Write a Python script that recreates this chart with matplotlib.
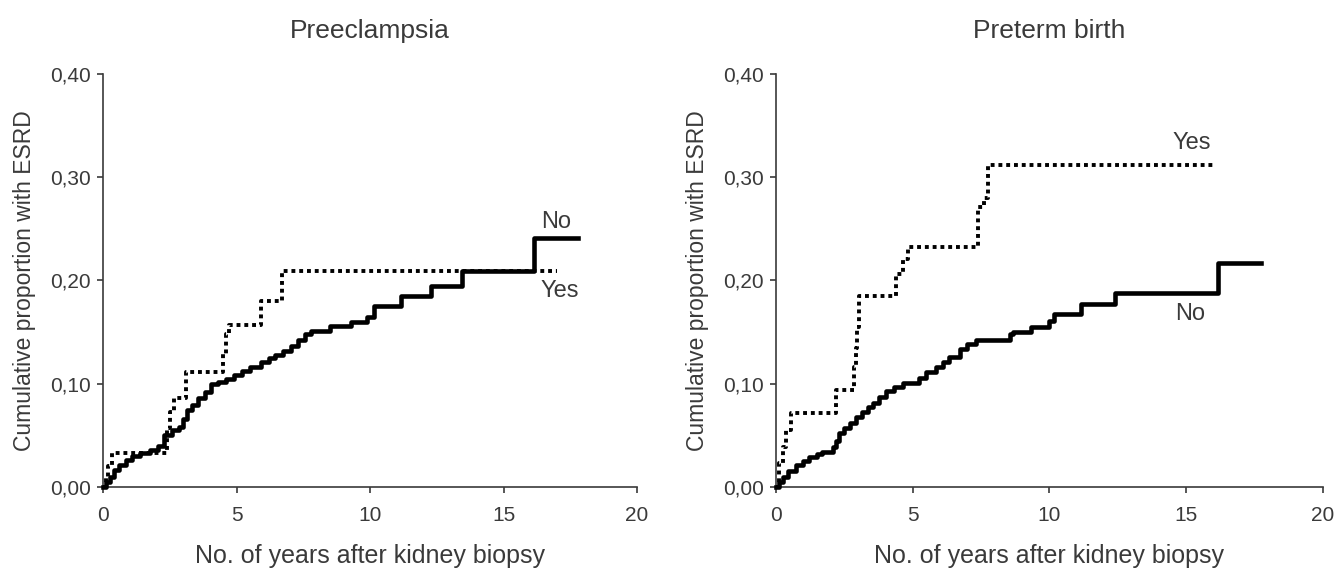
"""Cumulative proportion with ESRD after kidney biopsy: preeclampsia and preterm birth."""

import matplotlib

matplotlib.use("Agg")
import matplotlib.pyplot as plt

plt.rcParams["font.family"] = ["Liberation Sans", "DejaVu Sans"]

# Preeclampsia panel (years, cumulative proportion; step "post")
pe_no_t = [0, 0.1, 0.25, 0.4, 0.6, 0.85, 1.1, 1.4, 1.75, 2.05, 2.3, 2.6, 2.85, 3.0, 3.15,
           3.35, 3.55, 3.8, 4.05, 4.3, 4.6, 4.9, 5.2, 5.5, 5.9, 6.2, 6.45, 6.75, 7.05, 7.3,
           7.55, 7.8, 8.5, 9.3, 9.9, 10.15, 11.15, 12.3, 13.45, 16.15, 17.8]
pe_no_y = [0, 0.005, 0.010, 0.016, 0.021, 0.026, 0.030, 0.033, 0.036, 0.040, 0.050, 0.055,
           0.058, 0.066, 0.075, 0.079, 0.086, 0.092, 0.100, 0.102, 0.105, 0.108, 0.112, 0.116,
           0.121, 0.125, 0.128, 0.132, 0.137, 0.142, 0.148, 0.151, 0.156, 0.160, 0.165, 0.175,
           0.185, 0.195, 0.209, 0.241, 0.241]
pe_yes_t = [0, 0.1, 0.2, 0.35, 2.38, 2.5, 2.65, 3.1, 4.5, 4.6, 4.7, 5.92, 6.7, 17.0]
pe_yes_y = [0, 0.010, 0.020, 0.033, 0.057, 0.073, 0.086, 0.111, 0.129, 0.148, 0.157, 0.180,
            0.209, 0.209]

# Preterm birth panel
pt_no_t = [0, 0.1, 0.25, 0.45, 0.73, 1.0, 1.22, 1.5, 1.7, 2.07, 2.2, 2.32, 2.5, 2.7, 2.93,
           3.15, 3.35, 3.53, 3.75, 4.02, 4.3, 4.63, 5.24, 5.5, 5.85, 6.1, 6.34, 6.71, 7.0,
           7.32, 8.54, 8.66, 9.33, 10.0, 10.18, 11.16, 12.38, 16.16, 17.75]
pt_no_y = [0, 0.005, 0.010, 0.015, 0.021, 0.025, 0.029, 0.032, 0.034, 0.039, 0.045, 0.052,
           0.057, 0.062, 0.068, 0.073, 0.077, 0.081, 0.087, 0.093, 0.097, 0.101, 0.106, 0.111,
           0.116, 0.121, 0.126, 0.134, 0.138, 0.142, 0.148, 0.150, 0.155, 0.161, 0.168, 0.177,
           0.188, 0.217, 0.217]
pt_yes_t = [0, 0.12, 0.24, 0.37, 0.55, 2.2, 2.87, 2.93, 2.98, 3.02, 3.05, 4.39, 4.63, 4.82,
            7.38, 7.6, 7.74, 15.98]
pt_yes_y = [0, 0.023, 0.039, 0.055, 0.072, 0.094, 0.116, 0.135, 0.155, 0.171, 0.185, 0.206,
            0.221, 0.232, 0.271, 0.280, 0.312, 0.312]

x_ticks = [0, 5, 10, 15, 20]
y_ticks = [0.0, 0.1, 0.2, 0.3, 0.4]
y_tick_labels = ["0,00", "0,10", "0,20", "0,30", "0,40"]

panels = [
    ("Preeclampsia", pe_no_t, pe_no_y, pe_yes_t, pe_yes_y,
     [(16.4, 0.257, "No"), (16.4, 0.190, "Yes")]),
    ("Preterm birth", pt_no_t, pt_no_y, pt_yes_t, pt_yes_y,
     [(14.5, 0.333, "Yes"), (14.6, 0.168, "No")]),
]
positions = [[0.0769, 0.1516, 0.3985, 0.7195], [0.5791, 0.1516, 0.4082, 0.7195]]

text_color = "#3a3a3a"
fig = plt.figure(figsize=(13.4, 5.74), dpi=100)

for pos, (title, no_t, no_y, yes_t, yes_y, labels) in zip(positions, panels):
    ax = fig.add_axes(pos)
    ax.step(no_t, no_y, where="post", color="black", lw=3.3, clip_on=False, zorder=3)
    ax.step(yes_t, yes_y, where="post", color="black", lw=2.8, linestyle=(0, (1, 1)),
            clip_on=False, zorder=4)
    for x, y, s in labels:
        ax.text(x, y, s, fontsize=17, color=text_color, ha="left", va="center")

    ax.set_xlim(0, 20)
    ax.set_ylim(0, 0.40)
    ax.set_xticks(x_ticks)
    ax.set_yticks(y_ticks)
    ax.set_yticklabels(y_tick_labels)
    for side in ["top", "right"]:
        ax.spines[side].set_visible(False)
    for side in ["left", "bottom"]:
        ax.spines[side].set_color(text_color)
        ax.spines[side].set_linewidth(1.2)
    ax.tick_params(direction="out", length=4.5, width=1.2, color=text_color,
                   labelcolor=text_color, labelsize=15, pad=4)
    ax.tick_params(axis="x", pad=9)
    ax.set_title(title, fontsize=19, color=text_color, pad=26)
    ax.set_xlabel("No. of years after kidney biopsy", fontsize=18, color=text_color, labelpad=14)
    ax.set_ylabel("Cumulative proportion with ESRD", fontsize=16.5, color=text_color, labelpad=10)

fig.savefig("out.png", dpi=100)
